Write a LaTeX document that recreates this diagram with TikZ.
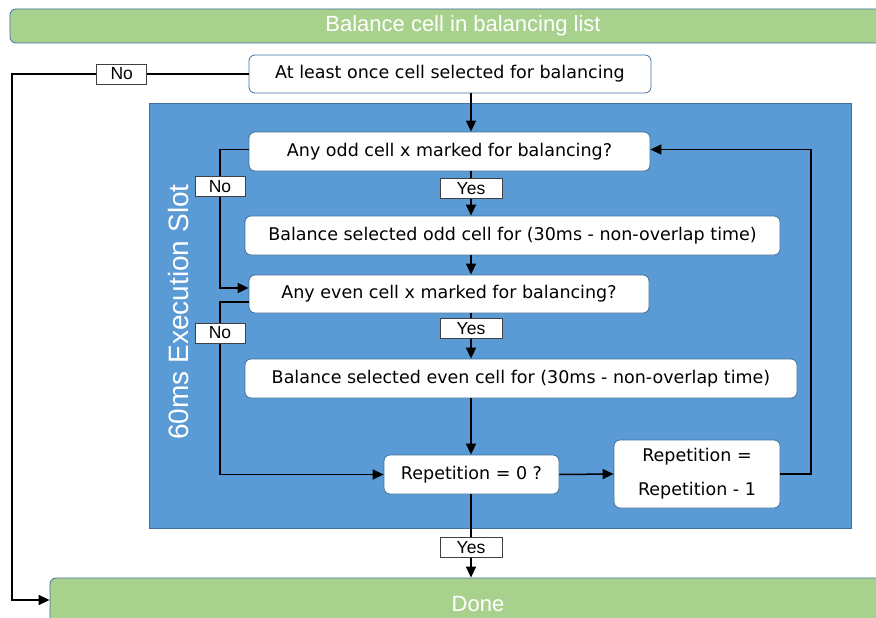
\documentclass[tikz,border=0pt]{standalone}
\usepackage{fontspec}
\setmainfont{DejaVu Sans}
\newfontfamily\arialf{Liberation Sans}
\usetikzlibrary{arrows.meta}
\definecolor{bluefill}{HTML}{5B9BD5}
\definecolor{blueedge}{HTML}{41719C}
\definecolor{greenfill}{HTML}{A9D18E}
\begin{document}
\begin{tikzpicture}[x=1pt,y=-1pt,
  box/.style={draw=blueedge, line width=0.8pt, fill=white, rounded corners=6pt, inner sep=0pt, font=\fontsize{17.5}{20}\selectfont, align=center},
  bar/.style={draw=blueedge, line width=0.8pt, fill=greenfill, rounded corners=6pt, inner sep=0pt, text=white, font=\arialf\fontsize{22}{24}\selectfont},
  lbl/.style={draw=black!75, line width=0.8pt, fill=white, inner sep=0pt, minimum height=20pt, font=\arialf\fontsize{17.5}{18}\selectfont},
  nolbl/.style={lbl, minimum width=50pt},
  yeslbl/.style={lbl, minimum width=62pt},
  arr/.style={line width=1.5pt, -{Triangle[length=11pt,width=10pt]}}
]
\useasboundingbox (0,0) rectangle (876,618);
% bars and slot
\node[bar, minimum width=906pt, minimum height=34pt] (top) at (463,26) {Balance cell in balancing list};
\node[bar, minimum width=856pt, minimum height=52pt] (done) at (478,604) {Done};
\node[draw=blueedge, line width=0.8pt, fill=bluefill, minimum width=702pt, minimum height=425pt, inner sep=0pt] (slot) at (500,315.5) {};
\node[rotate=90, text=white, font=\arialf\fontsize{28}{30}\selectfont] (slotlbl) at (178,312) {60ms Execution Slot};
% process boxes
\node[box, minimum width=402pt, minimum height=38pt] (atleast) at (450,74) {At least once cell selected for balancing};
\node[box, minimum width=401pt, minimum height=39pt] (odd) at (449.5,151.5) {Any odd cell x marked for balancing?};
\node[box, minimum width=535pt, minimum height=39pt] (balodd) at (512.5,235.5) {Balance selected odd cell for (30ms - non-overlap time)};
\node[box, minimum width=400pt, minimum height=38pt] (even) at (449,294) {Any even cell x marked for balancing?};
\node[box, minimum width=552pt, minimum height=39pt] (baleven) at (521,378.5) {Balance selected even cell for (30ms - non-overlap time)};
\node[box, minimum width=175pt, minimum height=39pt] (rep0) at (471.5,474.5) {Repetition = 0 ?};
\node[box, minimum width=166pt, minimum height=68pt, font=\fontsize{17.5}{34}\selectfont] (repm) at (697,474) {Repetition =\\Repetition - 1};
% helper coordinates
\coordinate (cx) at (471,0);
\coordinate (lx) at (12,0);
\coordinate (nx) at (220,0);
\coordinate (rx) at (811,0);
% connectors
\draw[arr] (atleast.west) -- node[nolbl, pos=0.536]{No} (atleast.west -| lx) |- ([yshift=4pt]done.west);
\draw[arr] (atleast.south -| cx) -- (odd.north -| cx);
\draw[arr] (odd.south -| cx) -- node[yeslbl, pos=0.38]{Yes} (balodd.north -| cx);
\draw[arr] (balodd.south -| cx) -- (even.north -| cx);
\draw[arr] ([yshift=2pt]odd.west) -- ([yshift=2pt]odd.west -| nx) -- node[nolbl, pos=0.27]{No} ([yshift=6pt]even.west -| nx) -- ([yshift=6pt]even.west);
\draw[arr] (even.south -| cx) -- node[yeslbl, pos=0.33]{Yes} (baleven.north -| cx);
\draw[arr] ([yshift=-8pt]even.west) -- ([yshift=-8pt]even.west -| nx) -- node[nolbl, pos=0.18]{No} (rep0.west -| nx) -- (rep0.west);
\draw[arr] (baleven.south -| cx) -- (rep0.north -| cx);
\draw[arr] (rep0.east) -- (repm.west);
\draw[arr] (repm.east) -- (repm.east -| rx) |- ([yshift=2pt]odd.east);
\draw[arr] (rep0.south -| cx) -- node[yeslbl, pos=0.64]{Yes} (done.north -| cx);
\end{tikzpicture}
\end{document}
